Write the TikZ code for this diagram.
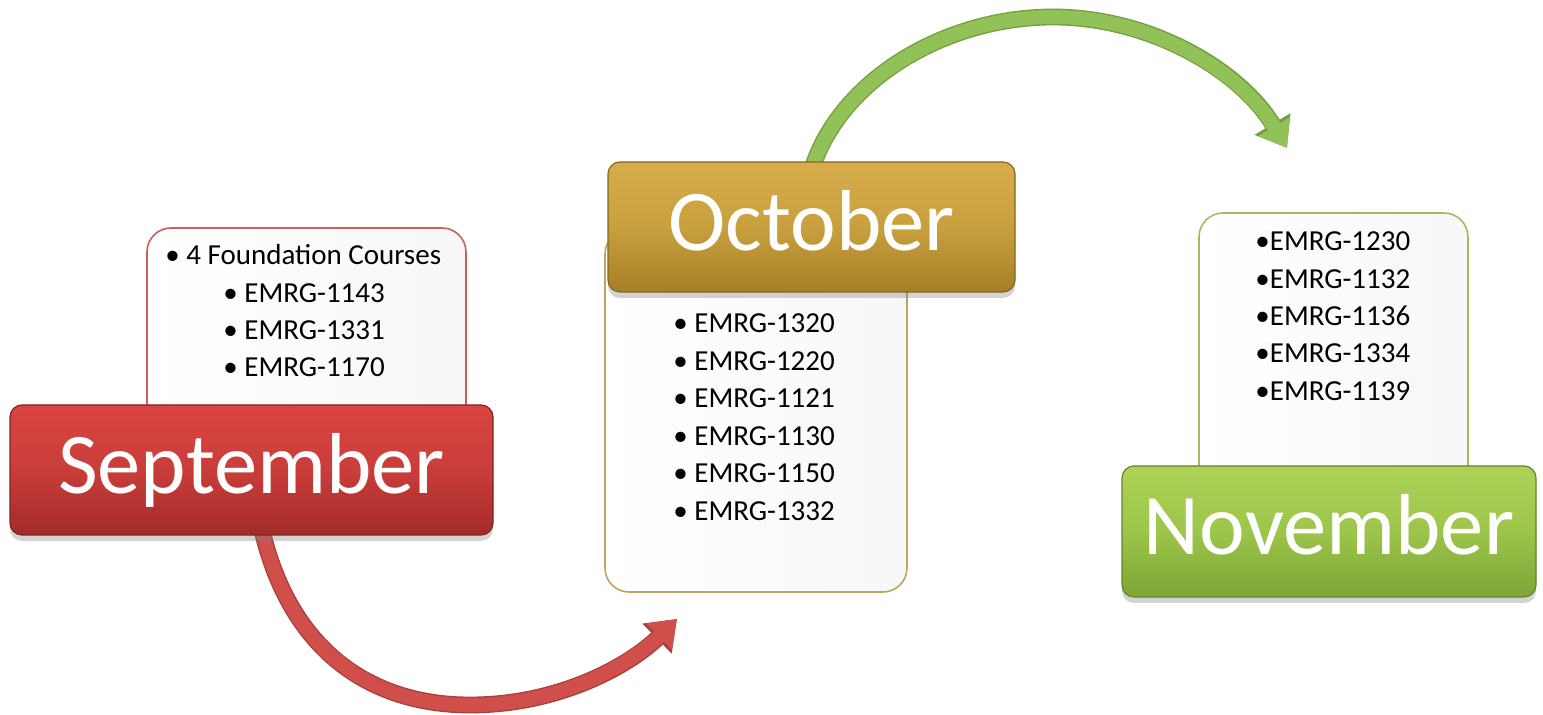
\documentclass[tikz,border=0pt]{standalone}
\usepackage{fontspec}
\setmainfont{Carlito}
\usetikzlibrary{arrows.meta,shadows,calc}
\definecolor{redtop}{HTML}{DA4541}
\definecolor{redmid}{HTML}{C93D3A}
\definecolor{redbot}{HTML}{A32B29}
\definecolor{goldtop}{HTML}{D8AC4C}
\definecolor{goldmid}{HTML}{C9A03E}
\definecolor{goldbot}{HTML}{A57F27}
\definecolor{grntop}{HTML}{ADD356}
\definecolor{grnmid}{HTML}{9CC54A}
\definecolor{grnbot}{HTML}{7DA437}
\definecolor{redarrow}{HTML}{D14F4B}
\definecolor{redarrowedge}{HTML}{A8403C}
\definecolor{grnarrow}{HTML}{92C257}
\definecolor{grnarrowedge}{HTML}{72A03E}
\definecolor{redline}{HTML}{C9605C}
\definecolor{goldline}{HTML}{BFA45E}
\definecolor{grnline}{HTML}{9DBE5E}
\begin{document}
\begin{tikzpicture}[x=0.5pt,y=-0.5pt,
  month/.style={rounded corners=6pt, inner sep=0pt, text=white,
    font=\fontsize{43.25}{50}\selectfont, text height=27.85pt, text depth=4.5pt,
    drop shadow={opacity=0.35, shadow xshift=0pt, shadow yshift=-3pt}},
  listbox/.style={rounded corners=12pt, line width=0.8pt, left color=white,
    right color=black!3, inner sep=0pt},
  item/.style={anchor=base west, inner sep=0pt, font=\fontsize{14.5}{17}\selectfont},
  flowarrow/.style={line cap=butt}]
\useasboundingbox (0,0) rectangle (1543,715);

% list boxes (behind month boxes)
\node[listbox, draw=redline, minimum width=159.5pt, minimum height=106pt] (seplist) at (306.5,334) {};
\node[listbox, draw=goldline, minimum width=151pt, minimum height=181pt] (octlist) at (756,411) {};
\node[listbox, draw=grnline, minimum width=134.5pt, minimum height=138.5pt] (novlist) at (1333.5,351.5) {};

% month box centres
\path (251.5,470) coordinate (sepc) (811.5,227) coordinate (octc) (1329,531.5) coordinate (novc);

% arrows
\coordinate (redstart) at ($(sepc)+(10.5,60)$);
\coordinate (redend) at (677,619);
\coordinate (grnstart) at ($(octc)+(0.5,-58)$);
\coordinate (grnend) at (1287,148);

\draw[flowarrow, redarrowedge, line width=8.4pt, -{Triangle[length=14pt,width=20pt]}]
  (redstart) .. controls (290,650) and (370,705) .. (470,705)
  .. controls (560,705) and (630,665) .. (redend);
\draw[flowarrow, redarrow, line width=7pt, -{Triangle[length=12.5pt,width=17.5pt]}]
  (redstart) .. controls (290,650) and (370,705) .. (470,705)
  .. controls (560,705) and (630,665) .. (redend);

\draw[flowarrow, grnarrowedge, line width=8.4pt, -{Triangle[length=14pt,width=20pt]}]
  (grnstart) .. controls (840,80) and (945,17) .. (1053,17)
  .. controls (1150,17) and (1240,70) .. (grnend);
\draw[flowarrow, grnarrow, line width=7pt, -{Triangle[length=12.5pt,width=17.5pt]}]
  (grnstart) .. controls (840,80) and (945,17) .. (1053,17)
  .. controls (1150,17) and (1240,70) .. (grnend);

\node[month, top color=redtop, bottom color=redbot, middle color=redmid, draw=redbot!80!black, line width=0.6pt,
  minimum width=241.5pt, minimum height=65pt] (sep) at (sepc) {September};
\node[month, top color=goldtop, bottom color=goldbot, middle color=goldmid, draw=goldbot!80!black, line width=0.6pt,
  minimum width=203.5pt, minimum height=65pt] (oct) at (octc) {October};
\node[month, top color=grntop, bottom color=grnbot, middle color=grnmid, draw=grnbot!80!black, line width=0.6pt,
  minimum width=207pt, minimum height=65.5pt] (nov) at (novc) {November};

% September items
\node[item] (s1) at (165,265) {• 4 Foundation Courses};
\node[item] (s2) at (223,302.5) {• EMRG-1143};
\node[item] (s3) at (223,339.5) {• EMRG-1331};
\node[item] (s4) at (223,376.5) {• EMRG-1170};

% October items
\node[item] (o1) at (673,333) {• EMRG-1320};
\node[item] (o2) at (673,370.5) {• EMRG-1220};
\node[item] (o3) at (673,408) {• EMRG-1121};
\node[item] (o4) at (673,445.5) {• EMRG-1130};
\node[item] (o5) at (673,483) {• EMRG-1150};
\node[item] (o6) at (673,520.5) {• EMRG-1332};

% November items
\node[item] (n1) at (1255,251) {•EMRG-1230};
\node[item] (n2) at (1255,288.3) {•EMRG-1132};
\node[item] (n3) at (1255,325.6) {•EMRG-1136};
\node[item] (n4) at (1255,362.9) {•EMRG-1334};
\node[item] (n5) at (1255,400.2) {•EMRG-1139};
\end{tikzpicture}
\end{document}
